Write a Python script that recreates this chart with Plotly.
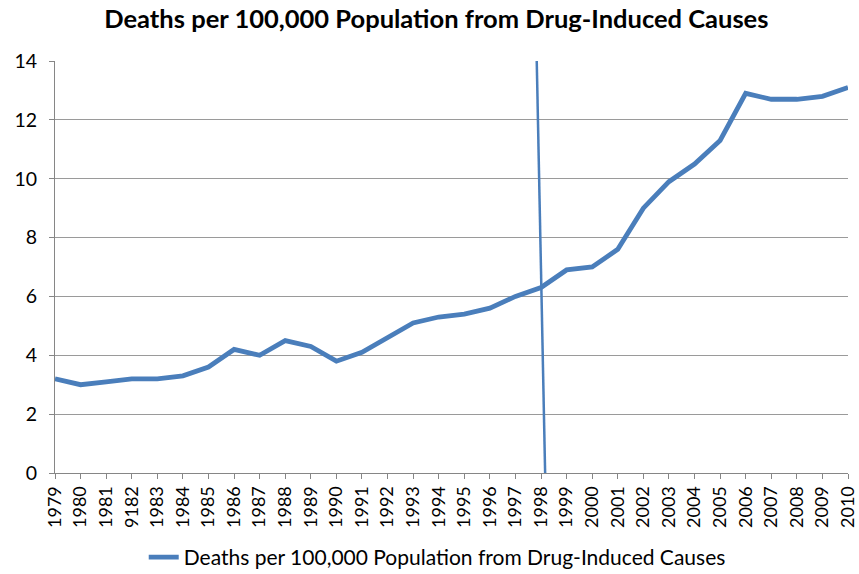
import plotly.graph_objects as go

# Years and deaths per 100,000 population
years = list(range(1979, 2011))
tick_labels = ["1979", "1980", "1981", "9182", "1983", "1984", "1985", "1986",
               "1987", "1988", "1989", "1990", "1991", "1992", "1993", "1994",
               "1995", "1996", "1997", "1998", "1999", "2000", "2001", "2002",
               "2003", "2004", "2005", "2006", "2007", "2008", "2009", "2010"]
deaths = [3.2, 3.0, 3.1, 3.2, 3.2, 3.3, 3.6, 4.2, 4.0, 4.5, 4.3, 3.8, 4.1, 4.6,
          5.1, 5.3, 5.4, 5.6, 6.0, 6.3, 6.9, 7.0, 7.6, 9.0, 9.9, 10.5, 11.3,
          12.9, 12.7, 12.7, 12.8, 13.1]

# Hand-drawn marker line near 1998
marker_x = [1997.83, 1998.16]
marker_y = [14.1, 0]

series_name = "Deaths per 100,000 Population from Drug-Induced Causes"
blue = "#4A7EBB"
font_family = "Lato, Open Sans, sans-serif"

fig = go.Figure()
fig.add_trace(go.Scatter(
    x=years, y=deaths, mode="lines", name=series_name,
    line=dict(color=blue, width=4.8),
))
fig.add_trace(go.Scatter(
    x=marker_x, y=marker_y, mode="lines", showlegend=False,
    line=dict(color=blue, width=2.5), cliponaxis=False,
))

fig.update_layout(
    width=859, height=574,
    margin=dict(l=55, r=11, t=61, b=101, autoexpand=False),
    paper_bgcolor="white", plot_bgcolor="white",
    font=dict(family=font_family, color="#000000", size=18),
    title=dict(text="<b>" + series_name + "</b>",
               x=0.508, xanchor="center", y=0.966, yanchor="middle",
               font=dict(size=25.5, family=font_family, color="#000000")),
    showlegend=True,
    legend=dict(orientation="h", x=0.482, xanchor="center", y=-0.205, yanchor="middle",
                font=dict(size=21, family=font_family), itemwidth=30,
                bgcolor="rgba(0,0,0,0)"),
    xaxis=dict(
        range=[1979 - 1e-6, 2010 + 1e-6], tickmode="array", tickvals=years,
        ticktext=tick_labels, tickangle=-90, showgrid=False, showline=True,
        linecolor="#868686", ticks="outside", ticklen=5, tickcolor="#868686",
        zeroline=False, automargin=False, ticklabeloverflow="allow",
        tickfont=dict(size=18, family=font_family),
    ),
    yaxis=dict(
        range=[0, 14], dtick=2, showgrid=True, gridcolor="#9a9a9a", gridwidth=1,
        showline=True, linecolor="#868686", ticks="outside", ticklen=5,
        tickcolor="#868686", zeroline=False, ticklabelstandoff=8, automargin=False,
        tickfont=dict(size=19.5, family=font_family),
    ),
)

fig.write_html("out.html")
